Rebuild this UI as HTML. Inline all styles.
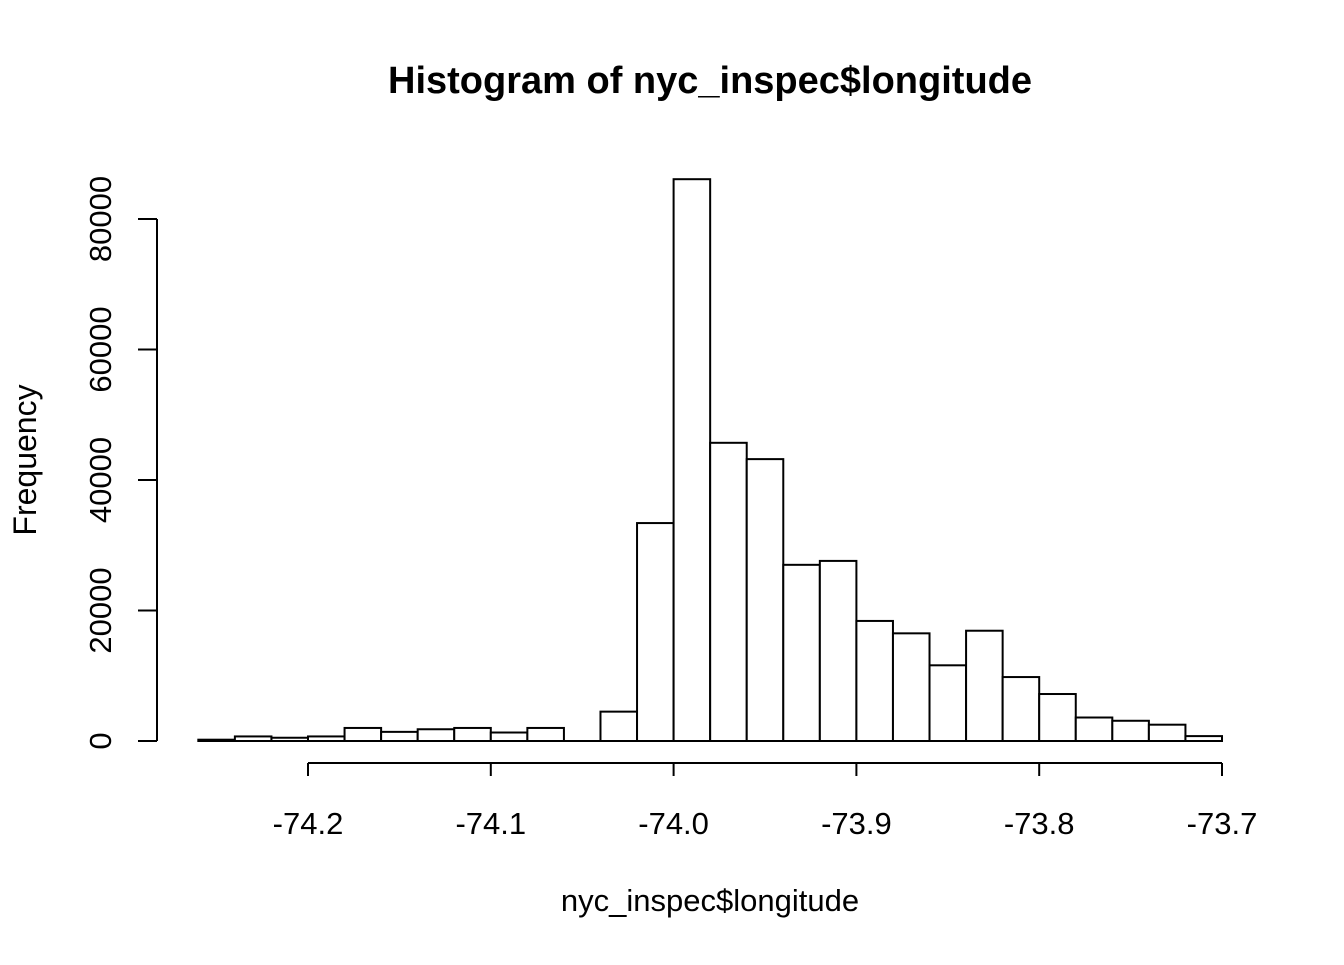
<!DOCTYPE html>
<html><head><meta charset="utf-8"><style>
body{margin:0;background:#fff}
svg text{font-family:"Liberation Sans",Arial,sans-serif;fill:#000}
</style></head><body>
<svg id="chart" width="1344" height="960" xmlns="http://www.w3.org/2000/svg">
<text x="710" y="93" font-size="38" font-weight="bold" text-anchor="middle">Histogram of nyc_inspec$longitude</text>
<text x="710" y="911" font-size="31" text-anchor="middle">nyc_inspec$longitude</text>
<text transform="translate(36,460) rotate(-90)" font-size="32" text-anchor="middle">Frequency</text>
<g id="bars"></g>
<g id="axes"></g>
</svg>
<script>
const binStart = -74.26;
const binWidth = 0.02;
const counts = [200,700,500,700,2000,1400,1800,2000,1300,2000,0,4500,33400,86100,45700,43200,27000,27600,18400,16500,11600,16900,9800,7200,3600,3100,2500,750];
const xTicks = [-74.2,-74.1,-74.0,-73.9,-73.8,-73.7];
const xTickLabels = ["-74.2","-74.1","-74.0","-73.9","-73.8","-73.7"];
const yTicks = [0,20000,40000,60000,80000];
const yTickLabels = ["0","20000","40000","60000","80000"];

const NS="http://www.w3.org/2000/svg";
function xs(v){return 308+(v-(-74.2))*(1222-308)/0.5;}
function ys(v){return 741-v*(741-219)/80000;}
function mk(tag,attrs,parent){const e=document.createElementNS(NS,tag);for(const k in attrs)e.setAttribute(k,attrs[k]);parent.appendChild(e);return e;}
const bars=document.getElementById('bars'), axes=document.getElementById('axes');
counts.forEach((c,i)=>{
  const x0=xs(binStart+i*binWidth), x1=xs(binStart+(i+1)*binWidth);
  let r;
  if(c>0){
    r=mk('rect',{x:x0,y:ys(c),width:x1-x0,height:ys(0)-ys(c),fill:'#fff',stroke:'#000','stroke-width':2},bars);
  } else {
    r=mk('line',{x1:x0,x2:x1,y1:ys(0),y2:ys(0),stroke:'#000','stroke-width':2},bars);
  }
  
  
});
// x axis
const xl=mk('line',{x1:xs(xTicks[0]),x2:xs(xTicks[xTicks.length-1]),y1:763,y2:763,stroke:'#000','stroke-width':2},axes);


xTicks.forEach((t,i)=>{
  mk('line',{x1:xs(t),x2:xs(t),y1:763,y2:776,stroke:'#000','stroke-width':2},axes);
  const tx=mk('text',{x:xs(t),y:834,'font-size':31,'text-anchor':'middle'},axes);
  tx.textContent=xTickLabels[i];
  
  
});
// y axis
const yl=mk('line',{x1:157,x2:157,y1:ys(yTicks[0]),y2:ys(yTicks[yTicks.length-1]),stroke:'#000','stroke-width':2},axes);


yTicks.forEach((t,i)=>{
  mk('line',{x1:138,x2:157,y1:ys(t),y2:ys(t),stroke:'#000','stroke-width':2},axes);
  const tx=mk('text',{transform:`translate(111,${ys(t)}) rotate(-90)`,'font-size':31,'text-anchor':'middle'},axes);
  tx.textContent=yTickLabels[i];
  
  
});
</script>
</body></html>
